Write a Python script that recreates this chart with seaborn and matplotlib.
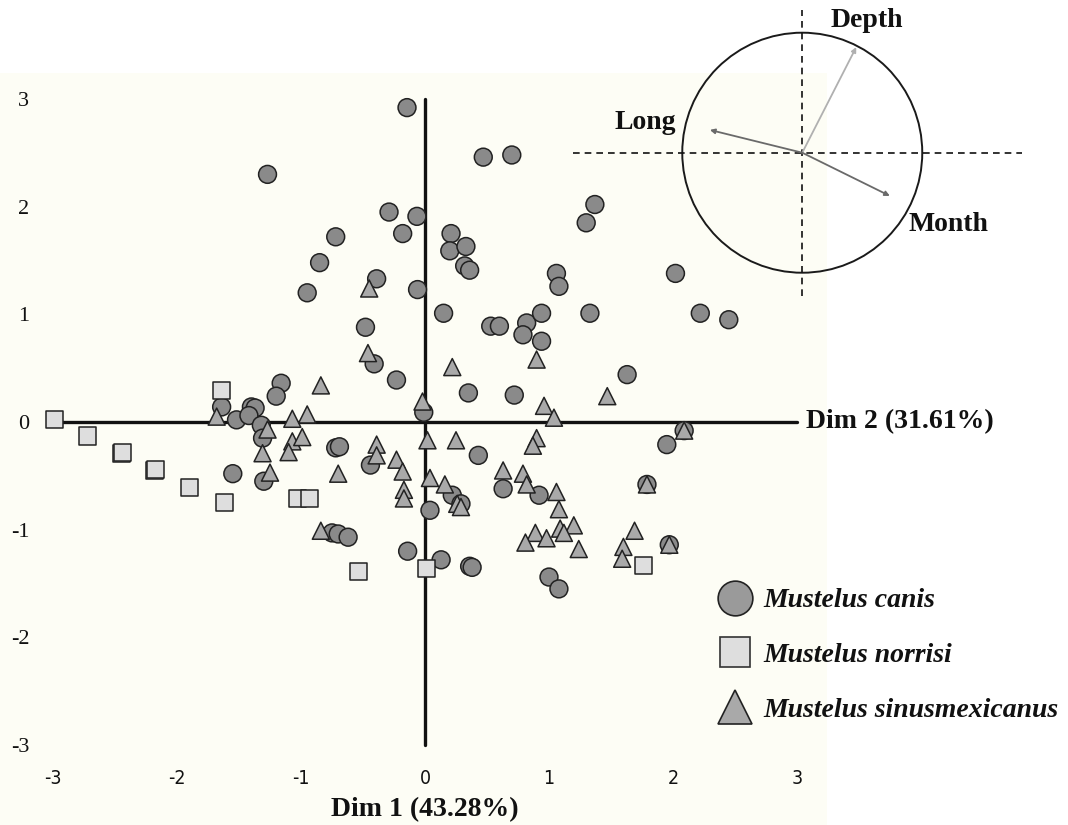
import numpy as np
import pandas as pd
import matplotlib
matplotlib.use("Agg")
import matplotlib.pyplot as plt
import seaborn as sns
from matplotlib.lines import Line2D
from matplotlib.patches import Circle, Rectangle

# PCA scores (Dim 1, Dim 2)
canis_x = [-0.145, -1.27, -0.29, -0.065, -0.72, -0.18, -0.85, -0.39, -0.95, -0.06,
           -0.48, 0.47, 0.70, 1.37, 1.30, 0.21, 0.20, 0.33, 0.32, 0.36,
           1.06, 1.08, 2.02, 0.15, 0.53, 0.60, 0.82, 0.94, 1.33, 2.22,
           2.45, 0.79, 0.94, 1.63, 0.35, 0.72, -0.01, 2.09, 1.95, 0.43,
           0.22, 0.29, 0.04, 0.63, 0.92, 1.79, 1.97, 0.13, 0.36, 0.38,
           1.00, 1.08, -1.64, -1.52, -1.40, -1.37, -1.42, -1.16, -1.20, -1.32,
           -1.31, -0.72, -0.69, -0.41, -0.23, -0.44, -1.55, -1.30, -0.75, -0.70,
           -0.62, -0.14]
canis_y = [2.92, 2.30, 1.95, 1.91, 1.72, 1.75, 1.48, 1.33, 1.20, 1.23,
           0.88, 2.46, 2.48, 2.02, 1.85, 1.75, 1.59, 1.63, 1.45, 1.41,
           1.38, 1.26, 1.38, 1.01, 0.89, 0.89, 0.92, 1.01, 1.01, 1.01,
           0.95, 0.81, 0.75, 0.44, 0.27, 0.25, 0.09, -0.08, -0.21, -0.31,
           -0.68, -0.76, -0.82, -0.62, -0.68, -0.58, -1.14, -1.28, -1.34, -1.35,
           -1.44, -1.55, 0.14, 0.02, 0.14, 0.13, 0.06, 0.36, 0.24, -0.03,
           -0.15, -0.24, -0.23, 0.54, 0.39, -0.40, -0.48, -0.55, -1.03, -1.04,
           -1.07, -1.20]

norrisi_x = [-2.99, -2.72, -2.45, -2.44, -2.18, -2.17, -1.90, -1.62, -1.64, -1.03,
             -0.93, -0.54, 0.01, 1.76]
norrisi_y = [0.02, -0.13, -0.29, -0.28, -0.45, -0.44, -0.61, -0.75, 0.29, -0.71,
             -0.71, -1.39, -1.36, -1.33]

sinus_x = [-0.45, 0.22, 0.90, 1.47, 0.96, 1.04, -0.02, 2.09, 0.02, 0.25,
           0.90, 0.87, 0.63, 0.79, 0.04, 0.16, 0.26, 0.29, 0.82, 1.06,
           1.08, 1.79, 1.20, 1.09, 1.12, 0.89, 0.98, 0.81, 1.24, 1.69,
           1.60, 1.59, 1.97, -1.68, -1.27, -1.31, -1.07, -0.95, -0.84, -1.07,
           -0.99, -1.10, -0.46, -0.39, -0.39, -0.23, -0.18, -0.70, -1.25, -0.17,
           -0.17, -0.84]
sinus_y = [1.24, 0.51, 0.58, 0.24, 0.15, 0.04, 0.19, -0.08, -0.17, -0.17,
           -0.15, -0.22, -0.45, -0.48, -0.52, -0.58, -0.76, -0.79, -0.58, -0.65,
           -0.81, -0.58, -0.96, -0.99, -1.03, -1.03, -1.08, -1.12, -1.18, -1.01,
           -1.16, -1.27, -1.14, 0.05, -0.07, -0.29, 0.03, 0.07, 0.34, -0.18,
           -0.14, -0.28, 0.64, -0.21, -0.31, -0.35, -0.46, -0.48, -0.47, -0.63,
           -0.71, -1.01]

species = ["Mustelus canis", "Mustelus norrisi", "Mustelus sinusmexicanus"]

# variable loadings on the correlation circle
var_names = ["Depth", "Long", "Month"]
var_x = [0.45, -0.77, 0.73]
var_y = [0.88, 0.19, -0.36]

ticks = [-3, -2, -1, 0, 1, 2, 3]

df = pd.concat([
    pd.DataFrame({"dim1": canis_x, "dim2": canis_y, "species": species[0]}),
    pd.DataFrame({"dim1": norrisi_x, "dim2": norrisi_y, "species": species[1]}),
    pd.DataFrame({"dim1": sinus_x, "dim2": sinus_y, "species": species[2]}),
], ignore_index=True)

palette = {species[0]: "#8a8a8a", species[1]: "#dedede", species[2]: "#a9a9a9"}
markers = {species[0]: "o", species[1]: "s", species[2]: "^"}
sizes = {species[0]: 165, species[1]: 150, species[2]: 150}

sns.set_style("white")
plt.rcParams["font.family"] = ["Liberation Serif", "DejaVu Serif"]
plt.rcParams["axes.unicode_minus"] = False
plt.rcParams["text.color"] = "#111111"

W, H = 1068, 825
fig = plt.figure(figsize=(W / 100, H / 100), dpi=100)
fig.patch.set_facecolor("white")
fig.patches.append(Rectangle((0, 0), 827 / W, 752 / H, transform=fig.transFigure,
                             facecolor="#fdfdf5", edgecolor="none", zorder=-10))

ax = fig.add_axes([53 / W, 80 / H, 744 / W, 646 / H])
ax.set_facecolor("none")
ax.set_xlim(-3, 3)
ax.set_ylim(-3, 3)

# thick axes through the origin
ax.plot([-3, 3], [0, 0], color="#111111", lw=2.4, zorder=1, clip_on=False)
ax.plot([0, 0], [-3, 3], color="#111111", lw=2.4, zorder=1, clip_on=False)

sns.scatterplot(data=df, x="dim1", y="dim2", hue="species", style="species",
                size="species", palette=palette, markers=markers, sizes=sizes,
                edgecolor="#222222", linewidth=1.1, legend=False, ax=ax,
                zorder=3, clip_on=False)

sns.despine(ax=ax, left=True, bottom=True, top=True, right=True)
ax.set_xlabel("")
ax.set_ylabel("")
ax.set_xticks(ticks)
ax.set_yticks(ticks)
ax.set_xticklabels([str(t) for t in ticks], family=["DejaVu Sans"], fontstretch="condensed",
                   fontsize=14, color="#111111")
ax.set_yticklabels([str(t) for t in ticks], fontsize=16, color="#111111")
ax.tick_params(axis="x", length=0, pad=17)
ax.tick_params(axis="y", length=0, pad=17)

ax.text(0, -3.6, "Dim 1 (43.28%)", ha="center", va="center", fontsize=20,
        fontweight="bold", color="#111111", clip_on=False)
ax.text(3.07, 0, "Dim 2 (31.61%)", ha="left", va="center", fontsize=20,
        fontweight="bold", color="#111111", clip_on=False)

# legend
handles = [
    Line2D([], [], ls="none", marker="o", markersize=25, markerfacecolor="#9a9a9a",
           markeredgecolor="#222222", markeredgewidth=1.2),
    Line2D([], [], ls="none", marker="s", markersize=22, markerfacecolor="#dedede",
           markeredgecolor="#333333", markeredgewidth=1.2),
    Line2D([], [], ls="none", marker="^", markersize=25, markerfacecolor="#a9a9a9",
           markeredgecolor="#222222", markeredgewidth=1.2),
]
fig.legend(handles, species, loc="upper left", bbox_to_anchor=(717 / W, (H - 588) / H),
           frameon=False, borderpad=0, borderaxespad=0, handlelength=1.3,
           handletextpad=0.36, labelspacing=1.05, labelcolor="#111111",
           prop={"family": "Liberation Serif", "weight": "bold", "style": "italic", "size": 20})

# correlation circle inset
ax2 = fig.add_axes([560 / W, (H - 305) / H, 500 / W, 305 / H])
ax2.set_xlim(-2.019, 2.148)
ax2.set_ylim(-1.269, 1.2725)
ax2.axis("off")
ax2.add_patch(Circle((0, 0), 1, fill=False, edgecolor="#1a1a1a", lw=1.4))
ax2.plot([-1.91, 1.83], [0, 0], ls=(0, (4, 3)), color="#111111", lw=1.2)
ax2.plot([0, 0], [-1.19, 1.19], ls=(0, (4, 3)), color="#111111", lw=1.2)
arrow_colors = ["#b0b0b0", "#6a6a6a", "#6a6a6a"]
label_pos = [(0.537, 1.10), (-1.311, 0.25), (1.222, -0.60)]
for name, vx, vy, c, (lx, ly) in zip(var_names, var_x, var_y, arrow_colors, label_pos):
    ax2.annotate("", xy=(vx, vy), xytext=(0, 0),
                 arrowprops=dict(arrowstyle="-|>", color=c, lw=1.3, mutation_scale=7,
                                 shrinkA=0, shrinkB=0))
    ax2.text(lx, ly, name, ha="center", va="center", fontsize=20,
             fontweight="bold", color="#111111")

fig.savefig("out.png", dpi=100)
